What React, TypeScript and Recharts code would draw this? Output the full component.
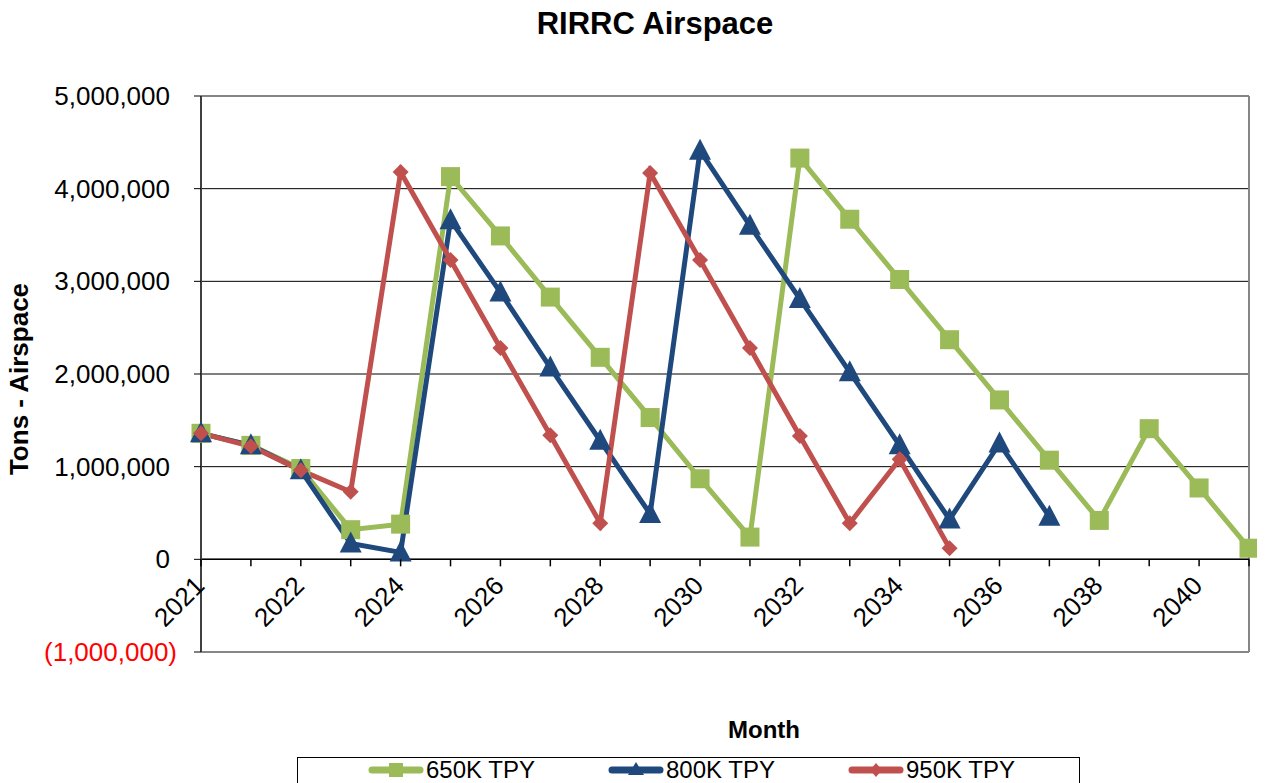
import React from 'react';
import { LineChart, Line, XAxis, YAxis, CartesianGrid, ReferenceLine, Legend } from 'recharts';

// category labels (only every other one is shown on the axis)
const years = [
  '2021', '2021', '2022', '2023', '2024', '2025', '2026', '2027', '2028', '2029', '2030',
  '2031', '2032', '2033', '2034', '2035', '2036', '2037', '2038', '2039', '2040', '2041',
];

const tpy650 = [
  1360000, 1230000, 980000, 320000, 380000, 4130000, 3490000, 2830000, 2180000, 1530000, 870000,
  240000, 4330000, 3670000, 3020000, 2370000, 1720000, 1070000, 420000, 1410000, 770000, 120000,
];
const tpy800 = [
  1360000, 1230000, 960000, 170000, 75000, 3660000, 2880000, 2070000, 1280000, 490000, 4410000,
  3600000, 2810000, 2020000, 1230000, 430000, 1250000, 460000, null, null, null, null,
];
const tpy950 = [
  1360000, 1220000, 960000, 730000, 4180000, 3230000, 2280000, 1340000, 390000, 4170000, 3230000,
  2280000, 1330000, 390000, 1080000, 120000, null, null, null, null, null, null,
];

const seriesNames = ['650K TPY', '800K TPY', '950K TPY'];
const yTicks = [-1000000, 0, 1000000, 2000000, 3000000, 4000000, 5000000];

const data = years.map((year, i) => ({
  idx: i,
  year,
  a: tpy650[i],
  b: tpy800[i],
  c: tpy950[i],
}));

const FONT = '"Liberation Sans", Arial, sans-serif';
const W = 1257;
const H = 775;
const TOP = 88;
const X_AXIS_H = 131;
const Y_AXIS_W = 193;
const PLOT_H = H - TOP - X_AXIS_H;
const ZERO_Y = TOP + (PLOT_H * 5) / 6;

const GREEN = '#9BBB59';
const BLUE = '#1F497D';
const RED = '#C0504D';

const fmt = (v: number) => v.toLocaleString('en-US');

const XTick = (props: any) => {
  const { x, payload } = props;
  const i = payload.value;
  const tx = x + 5;
  const ty = ZERO_Y + 28;
  return (
    <g>
      <line x1={x} x2={x} y1={ZERO_Y} y2={ZERO_Y + 7} stroke="#000" strokeWidth={1.5} />
      {i % 2 === 0 && (
        <text
          x={tx}
          y={ty}
          textAnchor="end"
          transform={`rotate(-45 ${tx} ${ty})`}
          fontSize={26}
          fontFamily={FONT}
          fill="#000"
        >
          {years[i]}
        </text>
      )}
    </g>
  );
};

const YTick = (props: any) => {
  const { y, payload } = props;
  const v = payload.value;
  const neg = v < 0;
  return (
    <text
      x={neg ? Y_AXIS_W - 24 : Y_AXIS_W - 31}
      y={y}
      dy="0.35em"
      textAnchor="end"
      fontSize={26}
      fontFamily={FONT}
      fill={neg ? '#FF0000' : '#000'}
    >
      {neg ? `(${fmt(-v)})` : fmt(v)}
    </text>
  );
};

const squareDot = (props: any) => {
  const { cx, cy, index, value } = props;
  if (value == null || cy == null) return <g key={`s${index}`} />;
  return <rect key={`s${index}`} x={cx - 9.5} y={cy - 9.5} width={19} height={19} fill={GREEN} />;
};

const triangleDot = (props: any) => {
  const { cx, cy, index, value } = props;
  if (value == null || cy == null) return <g key={`t${index}`} />;
  return (
    <polygon
      key={`t${index}`}
      points={`${cx},${cy - 12} ${cx - 11},${cy + 9} ${cx + 11},${cy + 9}`}
      fill={BLUE}
    />
  );
};

const diamondDot = (props: any) => {
  const { cx, cy, index, value } = props;
  if (value == null || cy == null) return <g key={`d${index}`} />;
  return (
    <polygon
      key={`d${index}`}
      points={`${cx},${cy - 8} ${cx + 8},${cy} ${cx},${cy + 8} ${cx - 8},${cy}`}
      fill={RED}
    />
  );
};

const legendMarker = (name: string, color: string) => {
  if (name === seriesNames[0]) return <rect x={21} y={3} width={14} height={14} fill={color} />;
  if (name === seriesNames[1]) return <polygon points="28,2 20,15 36,15" fill={color} />;
  return <polygon points="28,3 34,10 28,17 22,10" fill={color} />;
};

const LegendBox = (props: any) => {
  const { payload } = props;
  return (
    <div
      style={{
        border: '1px solid #000',
        height: 40,
        boxSizing: 'border-box',
        position: 'relative',
        background: '#fff',
      }}
    >
      {(payload || []).map((p: any, i: number) => (
        <div
          key={p.value}
          style={{ position: 'absolute', left: 70 + i * 240, top: 0, display: 'flex', alignItems: 'center', height: 24 }}
        >
          <svg width={56} height={20}>
            <line x1={4} x2={52} y1={10} y2={10} stroke={p.color} strokeWidth={7} strokeLinecap="round" />
            {legendMarker(p.value, p.color)}
          </svg>
          <span style={{ fontSize: 24, lineHeight: '24px', fontFamily: FONT, marginLeft: 2, color: '#000' }}>
            {p.value}
          </span>
        </div>
      ))}
    </div>
  );
};

export default function App() {
  return (
    <div style={{ position: 'relative', width: W, height: H, fontFamily: FONT }}>
      <LineChart width={W} height={H} data={data} margin={{ top: TOP, right: 16, left: 0, bottom: 0 }}>
        <CartesianGrid vertical={false} stroke="#000" strokeWidth={1} />
        <XAxis
          dataKey="idx"
          type="number"
          domain={[0, 21]}
          ticks={data.map((d) => d.idx)}
          interval={0}
          height={X_AXIS_H}
          axisLine={{ stroke: '#868686', strokeWidth: 2 }}
          tickLine={false}
          tick={<XTick />}
        />
        <YAxis
          domain={[-1000000, 5000000]}
          ticks={yTicks}
          interval={0}
          width={Y_AXIS_W}
          axisLine={{ stroke: '#404040', strokeWidth: 2 }}
          tickLine={{ stroke: '#000' }}
          tickSize={7}
          tick={<YTick />}
        />
        <ReferenceLine y={5000000} stroke="#868686" strokeWidth={2} />
        <ReferenceLine x={21} stroke="#868686" strokeWidth={2} />
        <ReferenceLine y={0} stroke="#000" strokeWidth={1.5} />
        <Legend
          layout="vertical"
          align="center"
          verticalAlign="middle"
          wrapperStyle={{ left: 289, top: 749, width: 783 }}
          content={<LegendBox />}
        />
        <Line
          dataKey="a"
          name={seriesNames[0]}
          stroke={GREEN}
          strokeWidth={5}
          dot={squareDot}
          activeDot={false}
          isAnimationActive={false}
        />
        <Line
          dataKey="b"
          name={seriesNames[1]}
          stroke={BLUE}
          strokeWidth={5}
          dot={triangleDot}
          activeDot={false}
          isAnimationActive={false}
        />
        <Line
          dataKey="c"
          name={seriesNames[2]}
          stroke={RED}
          strokeWidth={5}
          dot={diamondDot}
          activeDot={false}
          isAnimationActive={false}
        />
      </LineChart>
      {/* titles, drawn in page coordinates over the chart */}
      <svg
        width={W + 8}
        height={H + 8}
        style={{ position: 'absolute', left: -8, top: -8, pointerEvents: 'none' }}
      >
        <text x={655} y={34} textAnchor="middle" fontSize={31} fontWeight="bold" fontFamily={FONT}>
          RIRRC Airspace
        </text>
        <text
          x={28}
          y={379}
          textAnchor="middle"
          transform="rotate(-90 28 379)"
          fontSize={26}
          fontWeight="bold"
          fontFamily={FONT}
        >
          Tons - Airspace
        </text>
        <text x={764} y={738} textAnchor="middle" fontSize={24} fontWeight="bold" fontFamily={FONT}>
          Month
        </text>
      </svg>
    </div>
  );
}
